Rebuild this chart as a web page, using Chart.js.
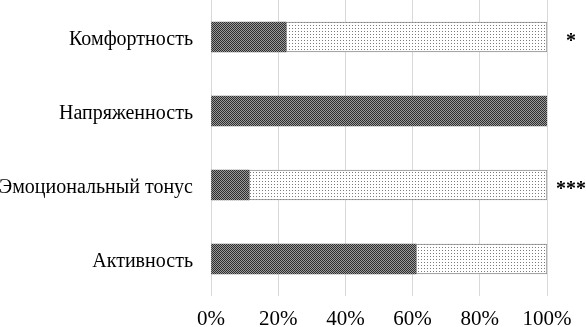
<!DOCTYPE html>
<html>
<head>
<meta charset="utf-8">
<script src="https://cdn.jsdelivr.net/npm/chart.js@4/dist/chart.umd.min.js"></script>
<style>
    html, body { margin: 0; padding: 0; background: #fff; }
    #wrap { width: 586px; height: 327px; }
</style>
</head>
<body>
<div id="wrap"><canvas id="chart" width="586" height="327"></canvas></div>
<script>
const categories = ['Комфортность', 'Напряженность', 'Эмоциональный тонус', 'Активность'];
const darkValues = [22.3, 100, 11.3, 61];
const lightValues = [77.7, 0, 88.7, 39];
const marks = ['*', '', '***', ''];
const tickValues = [0, 20, 40, 60, 80, 100];

// small pixel patterns, like the printed hatching
function makePattern(size, draw) {
    const c = document.createElement('canvas');
    c.width = size;
    c.height = size;
    const g = c.getContext('2d');
    draw(g);
    return g.createPattern(c, 'repeat');
}

const ctx = document.getElementById('chart').getContext('2d');

const darkFill = makePattern(2, g => {
    g.fillStyle = '#9a9a9a';
    g.fillRect(0, 0, 2, 2);
    g.fillStyle = '#2e2e2e';
    g.fillRect(0, 0, 1, 1);
    g.fillRect(1, 1, 1, 1);
});

const lightFill = makePattern(3, g => {
    g.fillStyle = '#ffffff';
    g.fillRect(0, 0, 3, 3);
    g.fillStyle = '#7a7a7a';
    g.fillRect(1, 1, 1, 1);
});

const markPlugin = {
    id: 'marks',
    afterDatasetsDraw(chart) {
        const c = chart.ctx;
        const yScale = chart.scales.y;
        c.save();
        c.fillStyle = '#000';
        c.font = 'bold 20px "Liberation Serif", serif';
        c.textAlign = 'center';
        c.textBaseline = 'middle';
        marks.forEach((m, i) => {
            if (!m) return;
            c.fillText(m, chart.chartArea.right + 24, yScale.getPixelForValue(i) + 5);
        });
        c.restore();
    }
};

// drop the automatic label padding so the plot starts at the top edge
function noPadding(axis) {
    axis.paddingTop = 0;
    axis.paddingBottom = 0;
    axis.paddingLeft = 0;
    axis.paddingRight = 0;
}

new Chart(ctx, {
    type: 'bar',
    data: {
        labels: categories,
        datasets: [{
            data: darkValues,
            backgroundColor: darkFill,
            borderWidth: 0,
            barThickness: 30
        }, {
            data: lightValues,
            backgroundColor: lightFill,
            borderColor: '#8a8a8a',
            borderWidth: 1,
            borderSkipped: false,
            barThickness: 30
        }]
    },
    options: {
        indexAxis: 'y',
        responsive: false,
        animation: false,
        layout: { autoPadding: false, padding: { top: 0, right: 39, bottom: 0, left: 0 } },
        plugins: {
            legend: { display: false },
            tooltip: { enabled: false }
        },
        scales: {
            x: {
                stacked: true,
                min: 0,
                max: 100,
                afterBuildTicks(axis) {
                    axis.ticks = tickValues.map(v => ({ value: v }));
                },
                afterFit(axis) {
                    axis.height = 31;
                    noPadding(axis);
                },
                grid: { color: '#d9d9d9', lineWidth: 1, drawTicks: false },
                border: { display: false },
                ticks: {
                    color: '#000',
                    padding: 11,
                    maxRotation: 0,
                    font: { family: '"Liberation Serif", serif', size: 21 },
                    callback: v => v + '%'
                }
            },
            y: {
                stacked: true,
                afterFit(axis) {
                    axis.width = 211;
                    noPadding(axis);
                },
                grid: { display: false },
                border: { display: false },
                ticks: {
                    color: '#000',
                    padding: 10,
                    labelOffset: 3,
                    font: { family: '"Liberation Serif", serif', size: 20 }
                }
            }
        }
    },
    plugins: [markPlugin]
});
</script>
</body>
</html>
